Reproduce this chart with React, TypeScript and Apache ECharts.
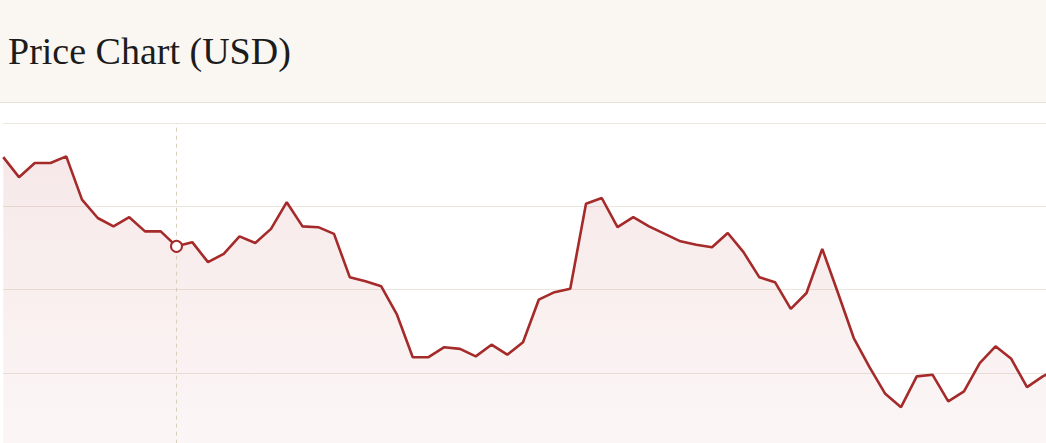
import React, { useEffect, useRef } from 'react';
import * as echarts from 'echarts';

// closing prices (one point per day)
const prices = [
  195.9, 193.5, 195.2, 195.2, 196.0, 190.8, 188.6, 187.6, 188.7, 187.0,
  187.0, 185.2, 185.7, 183.3, 184.3, 186.4, 185.6, 187.3, 190.5, 187.6,
  187.5, 186.7, 181.5, 181.0, 180.4, 177.0, 171.9, 171.9, 173.1, 172.9,
  172.0, 173.4, 172.2, 173.7, 178.8, 179.7, 180.1, 190.3, 191.0, 187.5,
  188.7, 187.6, 186.7, 185.8, 185.4, 185.1, 186.8, 184.5, 181.5, 180.9,
  177.7, 179.6, 184.9, 179.6, 174.2, 170.7, 167.5, 165.9, 169.6, 169.8,
  166.6, 167.8, 171.2, 173.2, 171.7, 168.3, 169.6, 170.5,
];
const days = prices.map((_, i) => `D${i + 1}`);
const hoverIndex = 11; // point under the crosshair

const Chart: React.FC = () => {
  const chartRef: any = useRef();

  useEffect(() => {
    const chart = echarts.init(chartRef.current, null, { renderer: 'svg' });
    const line = '#a52a2a';
    const option = {
      animation: false,
      title: {
        text: 'Price Chart (USD)',
        left: 3,
        top: 27,
        textStyle: {
          fontFamily: 'Liberation Serif',
          fontSize: 38,
          fontWeight: 'normal',
          color: '#1c1c1c',
        },
      },
      graphic: [
        { type: 'rect', z: -10, shape: { x: 0, y: 0, width: 1200, height: 102 }, style: { fill: '#faf7f2' } },
        { type: 'line', z: -9, shape: { x1: 0, y1: 102.5, x2: 1200, y2: 102.5 }, style: { stroke: '#e7e1d7', lineWidth: 1 } },
      ],
      grid: { left: 3.25, top: 123, width: 1055.25, height: 416.7, outerBoundsMode: 'none' },
      xAxis: {
        type: 'category',
        data: days,
        boundaryGap: false,
        axisLine: { show: false },
        axisTick: { show: false },
        axisLabel: { show: false },
      },
      yAxis: {
        type: 'value',
        min: 150,
        max: 200,
        interval: 10,
        axisLabel: { show: false },
        splitLine: { lineStyle: { color: '#ebe6de', width: 1 } },
      },
      series: [
        {
          type: 'line',
          data: prices,
          showSymbol: false,
          lineStyle: { color: line, width: 2.6 },
          areaStyle: {
            color: new echarts.graphic.LinearGradient(0, 0, 0, 1, [
              { offset: 0, color: 'rgba(176, 40, 40, 0.15)' },
              { offset: 1, color: 'rgba(176, 40, 40, 0.03)' },
            ]),
          },
          markLine: {
            silent: true,
            symbol: 'none',
            label: { show: false },
            lineStyle: { color: '#d9cfbf', type: [4, 4], width: 1 },
            data: [{ xAxis: hoverIndex }],
          },
          markPoint: {
            silent: true,
            symbol: 'circle',
            symbolSize: 11,
            label: { show: false },
            itemStyle: { color: '#ffffff', borderColor: line, borderWidth: 2 },
            data: [{ coord: [hoverIndex, prices[hoverIndex]] }],
          },
        },
      ],
    };
    chart.setOption(option);
    return () => {
      chart.dispose();
    };
  }, []);

  // the chart runs past the right and bottom edges of the visible frame
  return (
    <div style={{ position: 'fixed', left: 0, top: 0, width: 1046, height: 443, overflow: 'hidden', background: '#ffffff' }}>
      <div ref={chartRef} style={{ width: 1100, height: 560 }}></div>
    </div>
  );
};

export default function App() {
  return <Chart />;
}
